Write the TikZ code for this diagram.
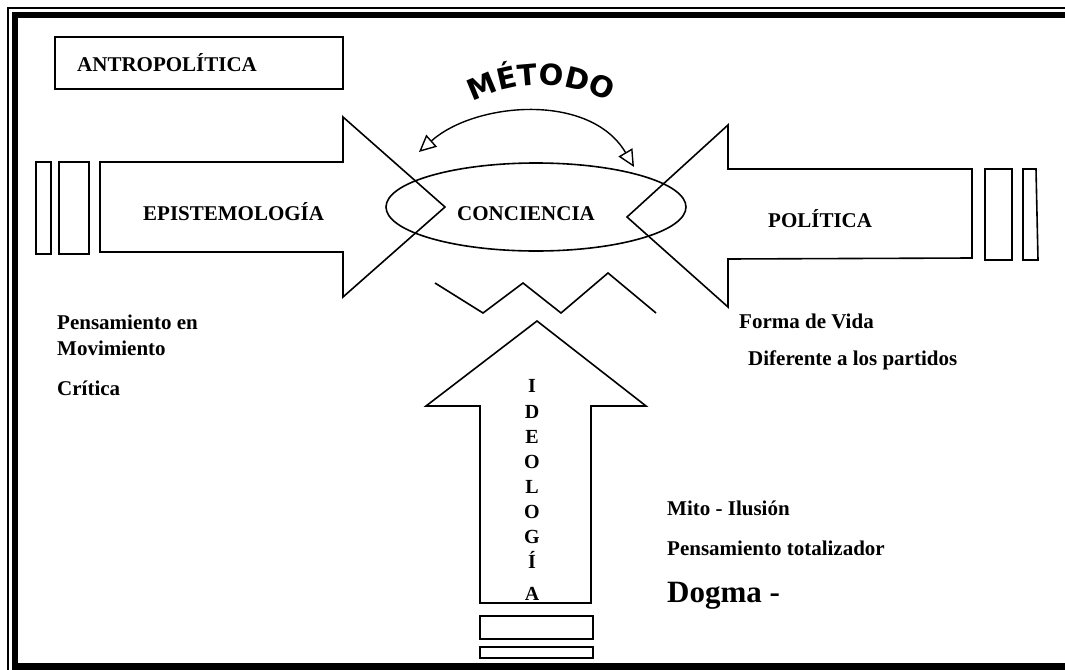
\documentclass[tikz,border=0pt]{standalone}
\usepackage{fontspec}
\setmainfont{Liberation Serif}
\newfontfamily\metfont{DejaVu Sans}
\usetikzlibrary{arrows.meta,decorations.text}
\begin{document}
\begin{tikzpicture}[x=1pt,y=-1pt,
  outl/.style={draw, line width=1.6pt, line join=miter},
  lbl/.style={font=\fontsize{21}{25}\selectfont\bfseries, inner sep=0pt, anchor=base west},
  vlet/.style={font=\fontsize{20}{22}\selectfont\bfseries, inner sep=0pt, anchor=base}]
\useasboundingbox (0,0) rectangle (1065,669);
\clip (0,0) rectangle (1065,669);
% frame
\draw[line width=1.6pt] (8,8) rectangle (1100,700);
\draw[line width=6.5pt] (15,15) rectangle (1080,666.5);
% title box
\draw[outl] (55,37) rectangle (343,89);
\node[lbl] (antro) at (77,71) {ANTROPOLÍTICA};
% left arrow and bars
\draw[outl] (100,162) -- (343,162) -- (343,117) -- (445,207) -- (343,297) -- (343,252) -- (100,252) -- cycle;
\draw[outl] (36,162) rectangle (51,254);
\draw[outl] (59,162) rectangle (89,254);
\node[lbl] (epi) at (143,220) {EPISTEMOLOGÍA};
% right arrow and bars
\draw[outl] (972,169) -- (728,169) -- (728,125) -- (627,217) -- (728,307) -- (728,259) -- (972,258) -- cycle;
\draw[outl] (985,169) rectangle (1012,260);
\draw[outl] (1023,169) -- (1036,169) -- (1038,260) -- (1023,260) -- cycle;
\node[lbl] (pol) at (768,227) {POLÍTICA};
% ellipse
\draw[outl] (536,207) ellipse [x radius=150, y radius=44];
\node[lbl] (conc) at (457,220) {CONCIENCIA};
% metodo arc
\coordinate (mL) at (419,152);
\coordinate (mR) at (634,167);
\draw[line width=1.4pt, {Triangle[open,length=17pt,width=16pt,line width=1.4pt]}-{Triangle[open,length=17pt,width=16pt,line width=1.4pt]}]
  (mL) .. controls (475,102) and (590,92) .. (mR);
\coordinate (metC) at (541,229);
\path[decorate, decoration={text along path, text align=center,
  text={|\metfont\bfseries\fontsize{29}{32}\selectfont|MÉTODO}}]
  (metC) ++(225:144) arc[start angle=225, end angle=315, radius=144];
% zigzag
\draw[line width=1.6pt] (435,283) -- (483,313) -- (523,283) -- (561,313) -- (608,273) -- (656,313);
% up arrow and bars
\draw[outl] (480,603) -- (480,406) -- (426,406) -- (537,321) -- (646,406) -- (591,406) -- (591,603) -- cycle;
\draw[outl] (480,616) rectangle (593,639);
\draw[outl] (480,647) rectangle (593,658);
\node[vlet] (i1) at (532,392) {I};
\node[vlet] (i2) at (532,418) {D};
\node[vlet] (i3) at (532,443) {E};
\node[vlet] (i4) at (532,468) {O};
\node[vlet] (i5) at (532,493) {L};
\node[vlet] (i6) at (532,518) {O};
\node[vlet] (i7) at (532,543) {G};
\node[vlet] (i8) at (532,568) {Í};
\node[vlet] (i9) at (532,600) {A};
% side texts
\node[lbl] (pen1) at (57,329) {Pensamiento en};
\node[lbl] (pen2) at (57,355) {Movimiento};
\node[lbl] (cri) at (57,395) {Crítica};
\node[lbl] (forma) at (739,328) {Forma de Vida};
\node[lbl] (dif) at (748,365) {Diferente a los partidos};
\node[lbl] (mito) at (667,515) {Mito - Ilusión};
\node[lbl] (tot) at (667,555) {Pensamiento totalizador};
\node[lbl, font=\fontsize{31}{34}\selectfont\bfseries] (dogma) at (667,602) {Dogma -};
\end{tikzpicture}
\end{document}
